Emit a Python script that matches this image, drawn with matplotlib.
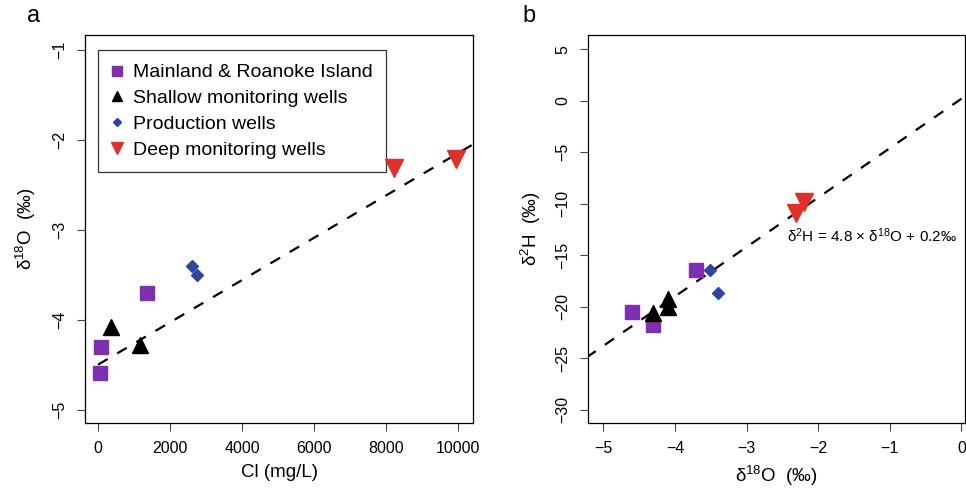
import matplotlib
matplotlib.use('Agg')
import numpy as np
import matplotlib.pyplot as plt

plt.rcParams['font.family'] = ['Liberation Sans', 'DejaVu Sans']
plt.rcParams['mathtext.fontset'] = 'custom'
plt.rcParams['mathtext.rm'] = 'Liberation Sans'
plt.rcParams['mathtext.it'] = 'Liberation Sans:italic'

groups = ['Mainland & Roanoke Island', 'Shallow monitoring wells',
          'Production wells', 'Deep monitoring wells']
colors = ['#7E2FB0', '#000000', '#2E45A5', '#E0302A']
markers = ['s', '^', 'D', 'v']
msizes = [10, 11, 6, 13]

# panel a: Cl (mg/L) vs d18O
cl = [[55, 80, 1350], [370, 1170], [2620, 2760], [8230, 9935]]
d18o_a = [[-4.59, -4.30, -3.70], [-4.08, -4.28], [-3.40, -3.50], [-2.31, -2.21]]
fit_a = (0.000235, -4.5)

# panel b: d18O vs d2H
d18o_b = [[-4.60, -4.31, -3.71], [-4.31, -4.10, -4.10], [-3.51, -3.40], [-2.31, -2.20]]
d2h = [[-20.5, -21.8, -16.4], [-20.6, -19.2, -20.0], [-16.4, -18.7], [-10.85, -9.8]]
fit_b = (4.8, 0.2)

fig = plt.figure(figsize=(9.66, 4.93), dpi=100)
ax1 = fig.add_axes([0.088, 0.142, 0.4017, 0.787])
ax2 = fig.add_axes([0.609, 0.142, 0.3895, 0.787])

for ax in (ax1, ax2):
    for s in ax.spines.values():
        s.set_linewidth(0.9)
    ax.tick_params(direction='out', length=5.8, width=0.8, color='#444444',
                   labelsize=11.5, pad=7)

# panel a
for i in range(4):
    ax1.plot(cl[i], d18o_a[i], linestyle='none', marker=markers[i],
             color=colors[i], markersize=msizes[i], label=groups[i], zorder=3)
xx = np.array([0, 11000])
ax1.plot(xx, fit_a[0] * xx + fit_a[1], 'k--', lw=1.6, dashes=(5, 5))
ax1.set_xlim(-361, 10417)
ax1.set_ylim(-5.148, -0.837)
ax1.set_xticks([0, 2000, 4000, 6000, 8000, 10000])
ax1.set_yticks([-5, -4, -3, -2, -1])
ax1.set_yticklabels(['\u22125', '\u22124', '\u22123', '\u22122', '\u22121'],
                    rotation=90, va='center')
ax1.set_xlabel('Cl (mg/L)', fontsize=13.5, labelpad=6)
ax1.set_ylabel('\u03b4$^{18}$O  (\u2030)', fontsize=13.5, labelpad=10)
leg = ax1.legend(loc='upper left', bbox_to_anchor=(0.0335, 0.961), fontsize=14,
                 frameon=True, fancybox=False, edgecolor='black',
                 handlelength=0.6, handletextpad=0.5, labelspacing=0.42,
                 borderpad=0.7, borderaxespad=0, markerscale=0.7)
leg.get_frame().set_linewidth(0.9)
leg.set_zorder(2.5)
fig.text(0.028, 0.955, 'a', fontsize=17)

# panel b
for i in range(4):
    ax2.plot(d18o_b[i], d2h[i], linestyle='none', marker=markers[i],
             color=colors[i], markersize=msizes[i], zorder=3)
xb = np.array([-6, 1])
ax2.plot(xb, fit_b[0] * xb + fit_b[1], 'k--', lw=1.6, dashes=(5, 5))
ax2.set_xlim(-5.21, 0.044)
ax2.set_ylim(-31.29, 6.39)
ax2.set_xticks([-5, -4, -3, -2, -1, 0])
ax2.set_xticklabels(['\u22125', '\u22124', '\u22123', '\u22122', '\u22121', '0'])
ax2.set_yticks([-30, -25, -20, -15, -10, -5, 0, 5])
ax2.set_yticklabels(['\u221230', '\u221225', '\u221220', '\u221215', '\u221210',
                     '\u22125', '0', '5'], rotation=90, va='center')
ax2.set_xlabel('\u03b4$^{18}$O  (\u2030)', fontsize=13.5, labelpad=6)
ax2.set_ylabel('\u03b4$^{2}$H  (\u2030)', fontsize=13.5, labelpad=9)
ax2.text(-2.43, -13.1, '\u03b4$^2$H = 4.8 \u00d7 \u03b4$^{18}$O + 0.2\u2030',
         fontsize=11, ha='left', va='center', clip_on=False)
fig.text(0.541, 0.955, 'b', fontsize=17)

fig.savefig('out.png', dpi=100)
